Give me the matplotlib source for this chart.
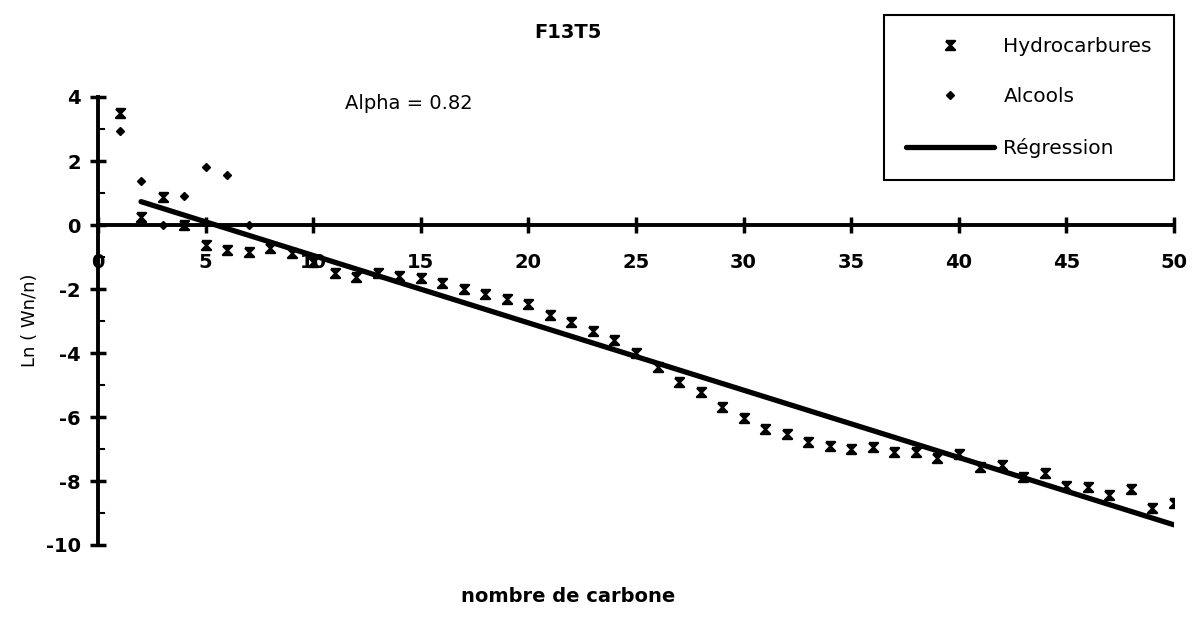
import numpy as np
import matplotlib
matplotlib.use("Agg")
import matplotlib.pyplot as plt
from matplotlib.path import Path
from matplotlib.ticker import MultipleLocator

# data
n_hydro = np.arange(1, 51)
ln_hydro = [3.5, 0.26, 0.88, 0.0, -0.63, -0.78, -0.85, -0.73, -0.89, -1.15,
            -1.51, -1.61, -1.49, -1.59, -1.67, -1.82, -2.01, -2.16, -2.31, -2.47,
            -2.81, -3.03, -3.31, -3.59, -4.0, -4.43, -4.9, -5.22, -5.7, -6.04,
            -6.39, -6.54, -6.77, -6.9, -7.0, -6.93, -7.1, -7.08, -7.27, -7.16,
            -7.55, -7.5, -7.86, -7.76, -8.16, -8.18, -8.44, -8.26, -8.85, -8.7]
n_alcools = [1, 2, 3, 4, 5, 6, 7]
ln_alcools = [2.95, 1.38, 0.0, 0.9, 1.82, 1.56, 0.0]
reg_x = [2, 50]
reg_y = [0.73, -9.37]
x_ticks = [0, 5, 10, 15, 20, 25, 30, 35, 40, 45, 50]
y_ticks = [-10, -8, -6, -4, -2, 0, 2, 4]

plt.rcParams['font.family'] = ['DejaVu Sans']
plt.rcParams['axes.unicode_minus'] = False

# square-ish "x" marker like the old spreadsheet one
hydro_marker = Path([(-1, 1), (1, 1), (-1, -1), (1, -1), (-1, 1)],
                    [Path.MOVETO, Path.LINETO, Path.LINETO, Path.LINETO, Path.LINETO])

fig = plt.figure(figsize=(11.94, 6.22), dpi=100)
ax = fig.add_axes([98 / 1194, 77 / 622, 1076 / 1194, 448 / 622])

h1, = ax.plot(n_hydro, ln_hydro, linestyle='none', marker=hydro_marker,
              ms=6.5, mew=1.7, color='black', label='Hydrocarbures')
h2, = ax.plot(n_alcools, ln_alcools, linestyle='none', marker='D',
              ms=4.5, color='black', label='Alcools')
h3, = ax.plot(reg_x, reg_y, color='black', lw=3.8, solid_capstyle='round',
              label='Régression')

ax.set_xlim(0, 50)
ax.set_ylim(-10, 4)
for s in ['top', 'right']:
    ax.spines[s].set_visible(False)
ax.spines['left'].set_position(('data', 0))
ax.spines['bottom'].set_position(('data', 0))
ax.spines['left'].set_linewidth(2.8)
ax.spines['bottom'].set_linewidth(2.8)

ax.set_xticks(x_ticks)
ax.set_yticks(y_ticks)
ax.yaxis.set_minor_locator(MultipleLocator(1))
ax.tick_params(axis='x', direction='inout', length=11, width=2.5, pad=15,
               labelsize=14)
ax.tick_params(axis='y', which='major', direction='inout', length=11,
               width=2.5, pad=7, labelsize=14)
ax.tick_params(axis='y', which='minor', direction='in', length=5, width=1.5)
for lab in ax.get_xticklabels() + ax.get_yticklabels():
    lab.set_fontweight('bold')

fig.text(568 / 1194, 1 - 33 / 622, 'F13T5', ha='center', va='center',
         fontsize=14, fontweight='bold')
fig.text(568 / 1194, 1 - 597 / 622, 'nombre de carbone', ha='center',
         va='center', fontsize=14, fontweight='bold')
fig.text(30 / 1194, 1 - 320 / 622, 'Ln ( Wn/n)', ha='center', va='center',
         rotation=90, fontsize=13)
ax.text(11.5, 3.81, 'Alpha = 0.82', ha='left', va='center', fontsize=14)

leg = fig.legend(handles=[h1, h2, h3], loc='upper right',
                 bbox_to_anchor=(1174 / 1194, 1 - 15 / 622), fontsize=14.5,
                 numpoints=1, handlelength=4.4, handletextpad=0.45,
                 labelspacing=1.55, borderpad=1.1, fancybox=False,
                 framealpha=1, edgecolor='black', borderaxespad=0)
leg.get_frame().set_linewidth(1.5)

fig.savefig('out.png', dpi=100)
